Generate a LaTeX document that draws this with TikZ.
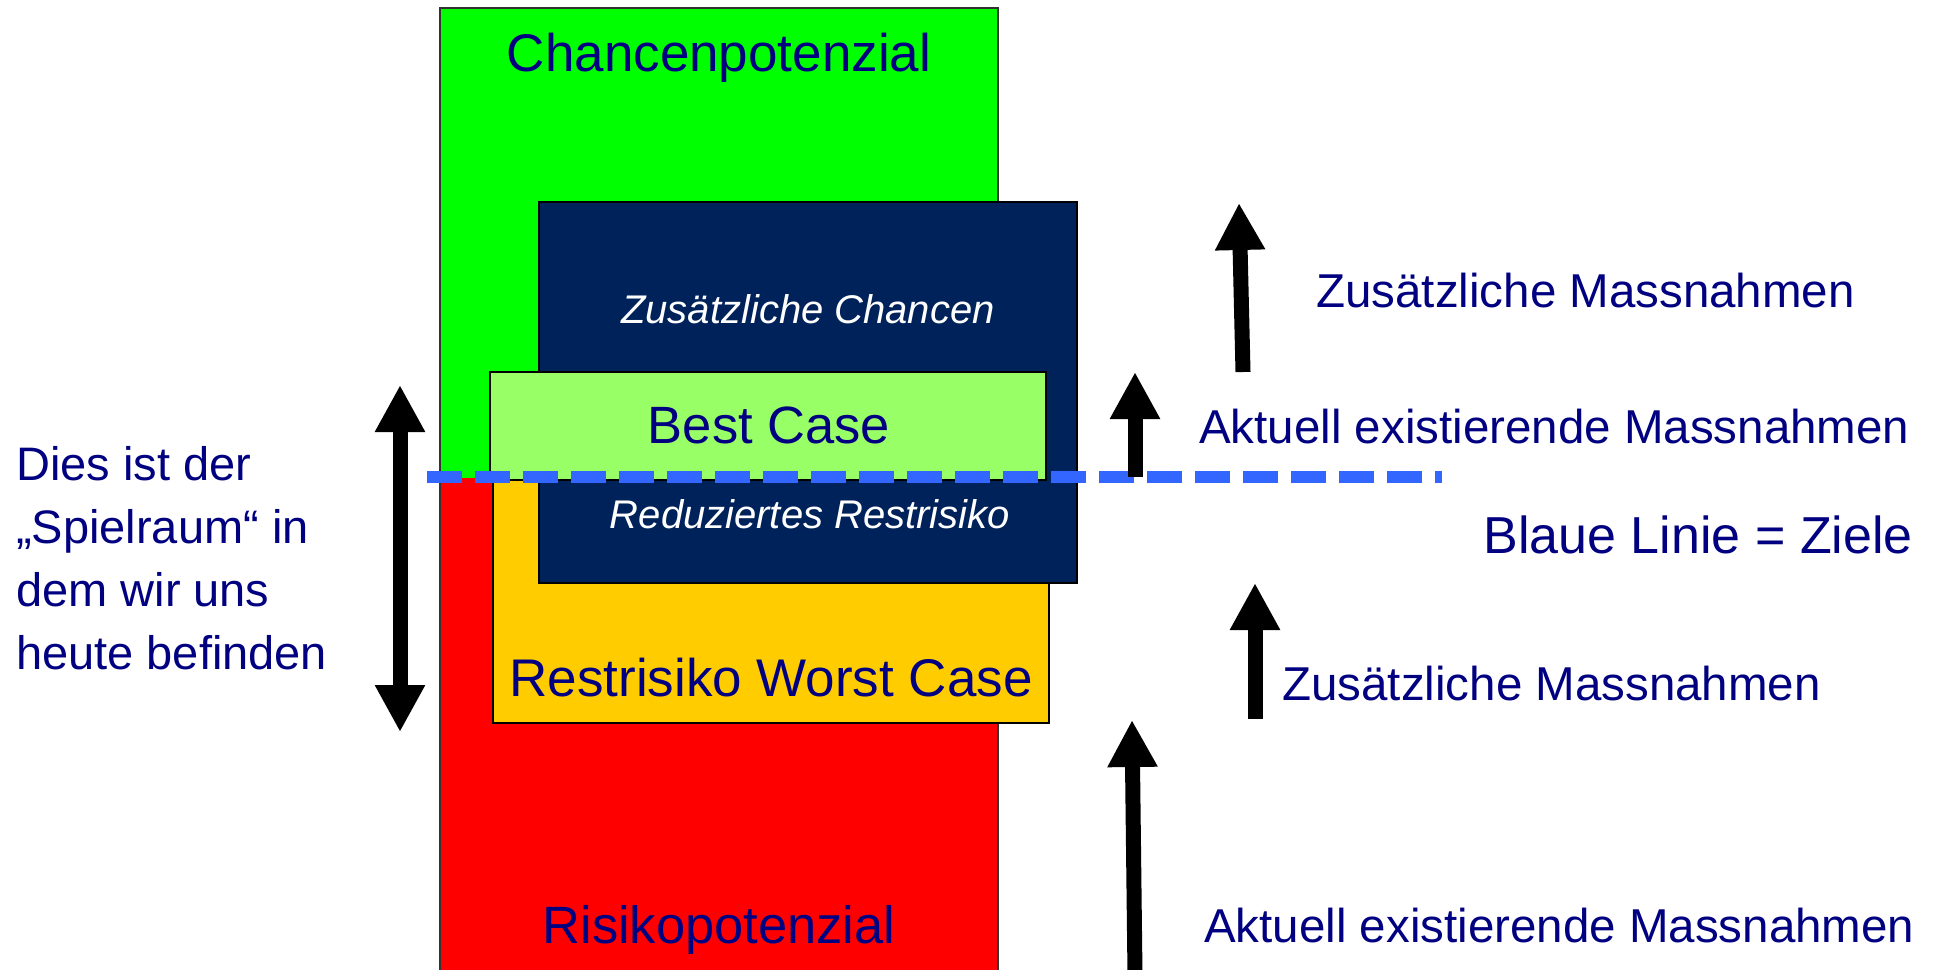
\documentclass[tikz,border=0pt]{standalone}
\usepackage{fontspec}
\setmainfont{Liberation Sans}
\usetikzlibrary{arrows.meta}
\definecolor{navytext}{HTML}{000080}
\definecolor{chancengreen}{HTML}{00FF00}
\definecolor{risikored}{HTML}{FF0000}
\definecolor{darkbox}{HTML}{00225A}
\definecolor{bestgreen}{HTML}{99FF66}
\definecolor{worstorange}{HTML}{FFCC00}
\definecolor{zielblue}{HTML}{3366FF}
\begin{document}
\begin{tikzpicture}[x=1pt,y=-1pt,
  box/.style={draw=black,line width=2pt},
  lbl/.style={text=navytext,inner sep=0pt},
  hint/.style={text=white,inner sep=0pt,anchor=base,font=\itshape\fontsize{40}{48}\selectfont},
  massarrow/.style={line width=15pt,-{Triangle[width=47pt,length=47pt]}},
  spielarrow/.style={line width=15pt,{Triangle[width=47pt,length=47pt]}-{Triangle[width=47pt,length=47pt]}}]
\useasboundingbox (0,0) rectangle (1937,969);

% Column
\fill[chancengreen] (440,8) rectangle (998,478);
\fill[risikored] (440,478) rectangle (998,975);
\draw[line width=2pt,black!80] (440,975) -- (440,8) -- (998,8) -- (998,975);

% Boxes
\draw[box,fill=worstorange] (493,480) rectangle (1049,723);
\draw[box,fill=darkbox] (539,202) rectangle (1077,583);
\draw[box,fill=bestgreen] (490,372) rectangle (1046,480);

% Labels in the boxes
\node[lbl,anchor=base,font=\fontsize{53}{60}\selectfont] (chancen) at (719,71) {Chancenpotenzial};
\node[hint] (zchancen) at (808,323) {Zusätzliche Chancen};
\node[lbl,anchor=base,font=\fontsize{52.5}{60}\selectfont] (best) at (769,443) {Best Case};
\node[hint] (reduziert) at (810,528) {Reduziertes Restrisiko};
\node[lbl,anchor=base,font=\fontsize{53}{60}\selectfont] (worst) at (771,696) {Restrisiko Worst Case};
\node[lbl,anchor=base,font=\fontsize{52.5}{60}\selectfont] (risiko) at (719,943) {Risikopotenzial};

% Target line
\draw[zielblue,line width=12pt,dash pattern=on 35pt off 13pt] (427,477) -- (1442,477);

% Measures
\coordinate (zo1) at (1243,372); \coordinate (zo2) at (1239,203);
\coordinate (ao1) at (1135,477); \coordinate (ao2) at (1135,372);
\coordinate (zu1) at (1255,719); \coordinate (zu2) at (1255,583);
\coordinate (au1) at (1135,975); \coordinate (au2) at (1132,720);
\draw[massarrow] (zo1) -- (zo2);
\draw[massarrow] (ao1) -- (ao2);
\draw[massarrow] (zu1) -- (zu2);
\draw[massarrow] (au1) -- (au2);

\node[lbl,anchor=base west,font=\fontsize{47.5}{58}\selectfont] (zmass) at (1316,307) {Zusätzliche Massnahmen};
\node[lbl,anchor=base west,font=\fontsize{47.5}{58}\selectfont] (amass) at (1199,443) {Aktuell existierende Massnahmen};
\node[lbl,anchor=base east,font=\fontsize{52}{60}\selectfont] (ziele) at (1913,553) {Blaue Linie = Ziele};
\node[lbl,anchor=base west,font=\fontsize{47.5}{58}\selectfont] (zmassu) at (1282,700) {Zusätzliche Massnahmen};
\node[lbl,anchor=base west,font=\fontsize{47.5}{58}\selectfont] (amassu) at (1204,942) {Aktuell existierende Massnahmen};

% Spielraum
\coordinate (spo) at (400,385); \coordinate (spu) at (400,732);
\draw[spielarrow] (spo) -- (spu);
\node[lbl,anchor=base west,align=left,font=\fontsize{47}{63}\selectfont] (spielraum) at (16,669) {Dies ist der\\„Spielraum“ in\\dem wir uns\\heute befinden};
\end{tikzpicture}
\end{document}
